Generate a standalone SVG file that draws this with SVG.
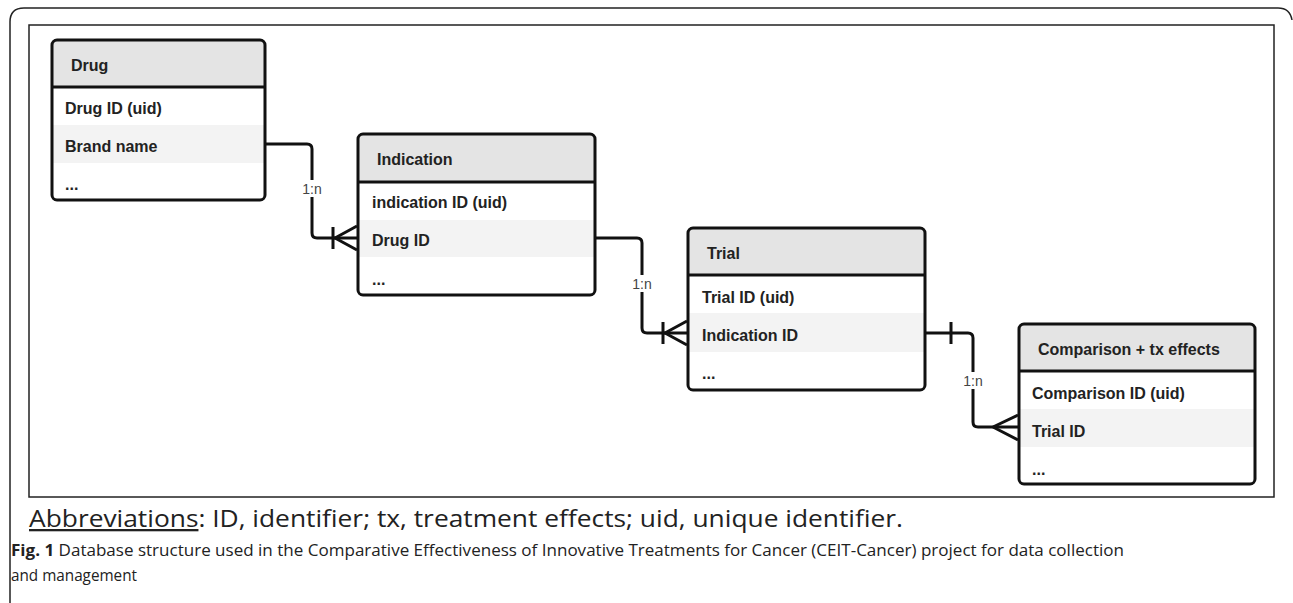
<svg xmlns="http://www.w3.org/2000/svg" width="1293" height="603" viewBox="0 0 1293 603">
<style>
.frame{fill:none;stroke:#222;stroke-width:1.5}
.box{fill:none;stroke:#111;stroke-width:3}
.hdr{fill:#e4e4e4}
.alt{fill:#f3f3f3}
.sep{stroke:#111;stroke-width:3}
.t{font-family:"Liberation Sans",Arial,sans-serif;font-size:16px;font-weight:bold;fill:#222}
.conn{fill:none;stroke:#111;stroke-width:3;stroke-linejoin:round}
.bg{fill:#fff}
.lbl{font-family:"Liberation Sans",Arial,sans-serif;font-size:14px;fill:#444;text-anchor:middle}
.cap{font-family:"Open Sans",sans-serif;fill:#222}
</style>
<rect width="1293" height="603" fill="#fff"/>
<path class="frame" d="M10,603 L10,22 Q10,8 24,8 L1278,8 Q1290,8 1292,20"/>
<rect class="frame" x="29" y="25" width="1245" height="472"/>

<g id="drug">
<path class="hdr" d="M57,40 H260 Q265,40 265,45 V87 H52 V45 Q52,40 57,40 Z"/>
<rect class="alt" x="52" y="125" width="213" height="38"/>
<rect class="box" x="52" y="40" width="213" height="160" rx="5"/>
<line class="sep" x1="52" y1="87" x2="265" y2="87"/>
<text class="t" x="71" y="71">Drug</text>
<text class="t" x="65" y="114">Drug ID (uid)</text>
<text class="t" x="65" y="152">Brand name</text>
<text class="t" x="65" y="190">...</text>
</g>

<g id="indication">
<path class="hdr" d="M363,134 H590 Q595,134 595,139 V182 H358 V139 Q358,134 363,134 Z"/>
<rect class="alt" x="358" y="220" width="237" height="37"/>
<rect class="box" x="358" y="134" width="237" height="161" rx="5"/>
<line class="sep" x1="358" y1="182" x2="595" y2="182"/>
<text class="t" x="377" y="165">Indication</text>
<text class="t" x="372" y="208">indication ID (uid)</text>
<text class="t" x="372" y="246">Drug ID</text>
<text class="t" x="372" y="285">...</text>
</g>

<g id="trial">
<path class="hdr" d="M693,228 H920 Q925,228 925,233 V275 H688 V233 Q688,228 693,228 Z"/>
<rect class="alt" x="688" y="313" width="237" height="39"/>
<rect class="box" x="688" y="228" width="237" height="162" rx="5"/>
<line class="sep" x1="688" y1="275" x2="925" y2="275"/>
<text class="t" x="707" y="259">Trial</text>
<text class="t" x="702" y="303">Trial ID (uid)</text>
<text class="t" x="702" y="341">Indication ID</text>
<text class="t" x="702" y="379">...</text>
</g>

<g id="comparison">
<path class="hdr" d="M1024,324 H1250 Q1255,324 1255,329 V371 H1019 V329 Q1019,324 1024,324 Z"/>
<rect class="alt" x="1019" y="409" width="236" height="38"/>
<rect class="box" x="1019" y="324" width="236" height="160" rx="5"/>
<line class="sep" x1="1019" y1="371" x2="1255" y2="371"/>
<text class="t" x="1038" y="355">Comparison + tx effects</text>
<text class="t" x="1032" y="399">Comparison ID (uid)</text>
<text class="t" x="1032" y="437">Trial ID</text>
<text class="t" x="1032" y="475">...</text>
</g>

<g id="connectors">
<path class="conn" d="M265,144 H307 Q312,144 312,149 V233 Q312,238 317,238 H358"/>
<path class="conn" d="M333,227 V249 M335,238 L357,226 M335,238 L357,250"/>
<rect class="bg" x="299" y="180" width="26" height="17"/>
<text class="lbl" x="312" y="194">1:n</text>

<path class="conn" d="M595,238 H637 Q642,238 642,243 V328 Q642,333 647,333 H688"/>
<path class="conn" d="M663,322 V344 M665,333 L687,321 M665,333 L687,345"/>
<rect class="bg" x="629" y="275" width="26" height="17"/>
<text class="lbl" x="642" y="289">1:n</text>

<path class="conn" d="M925,333 H968 Q973,333 973,338 V422 Q973,427 978,427 H1019"/>
<path class="conn" d="M951,322 V344 M993,427 L1018,415 M993,427 L1018,440"/>
<rect class="bg" x="960" y="372" width="26" height="17"/>
<text class="lbl" x="973" y="386">1:n</text>
</g>

<text class="cap" x="29" y="527" font-size="23" textLength="874" lengthAdjust="spacingAndGlyphs"><tspan text-decoration="underline">Abbreviations</tspan>: ID, identifier; tx, treatment effects; uid, unique identifier.</text>
<text class="cap" x="11" y="556" font-size="16.5" textLength="1113" lengthAdjust="spacingAndGlyphs"><tspan font-weight="bold">Fig. 1</tspan> Database structure used in the Comparative Effectiveness of Innovative Treatments for Cancer (CEIT-Cancer) project for data collection</text>
<text class="cap" x="11" y="581" font-size="16.5" textLength="126" lengthAdjust="spacingAndGlyphs">and management</text>
</svg>
